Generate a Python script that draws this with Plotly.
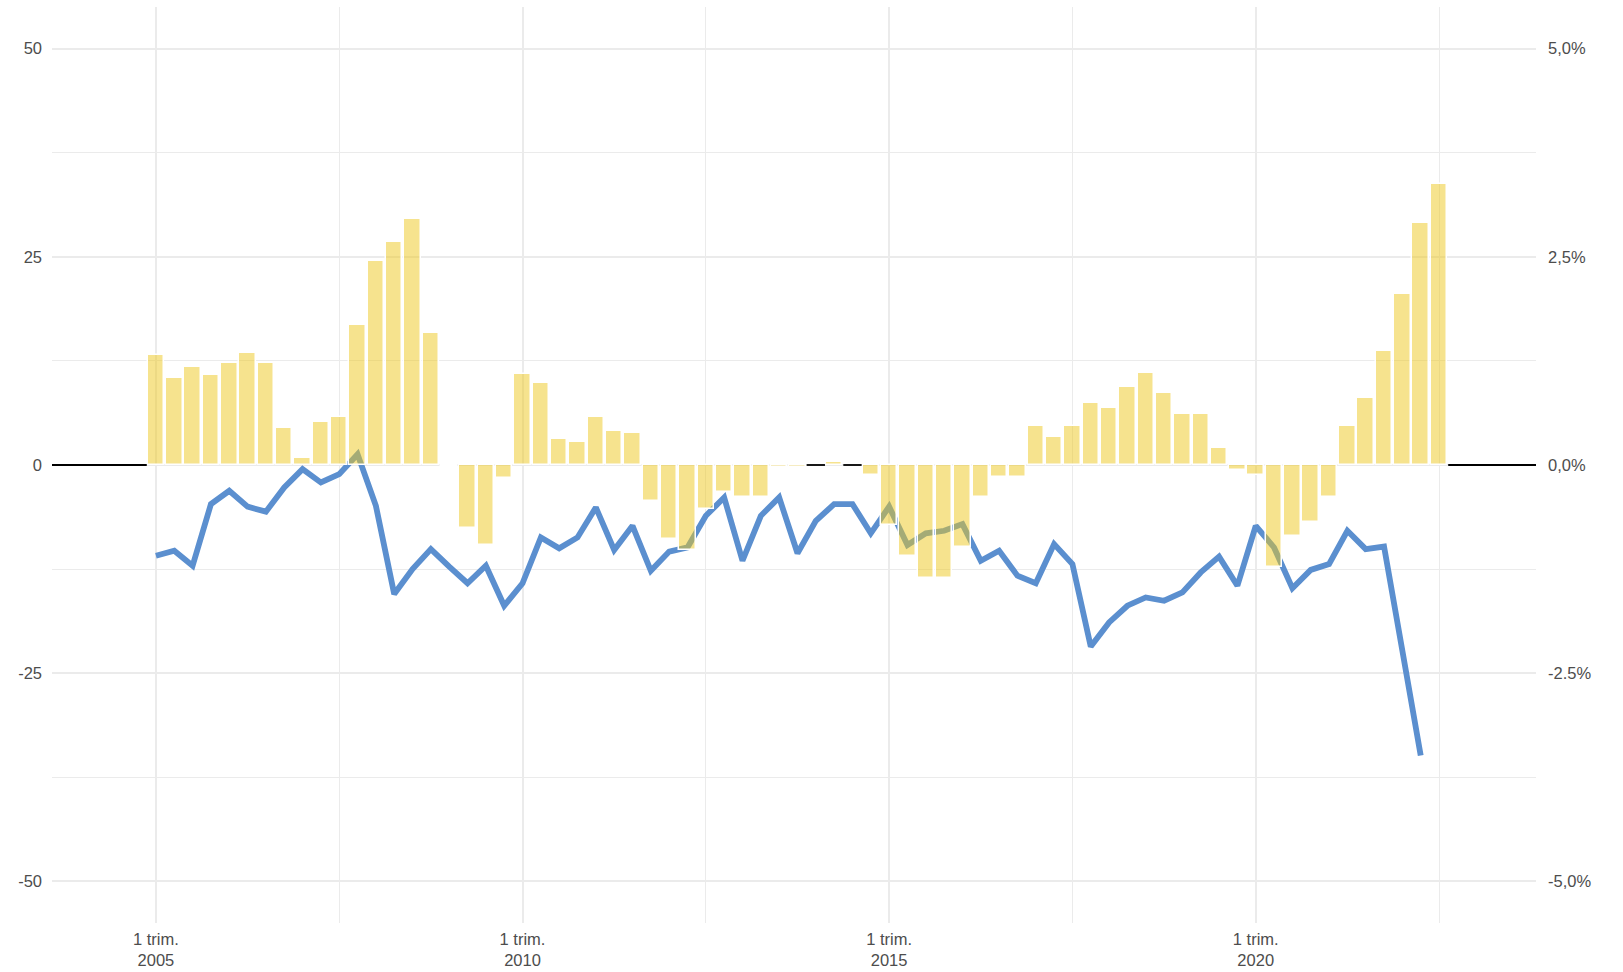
import plotly.graph_objects as go

# Quarters 2005-Q1 .. 2022-Q3
years = list(range(2005, 2023))
quarters = [f"{y}-T{q}" for y in years for q in range(1, 5)][:71]

# Yellow bars (left axis units)
bar_values = [
    13.2, 10.5, 11.8, 10.8,      # 2005
    12.2, 13.5, 12.2, 4.5,       # 2006
    0.8, 5.2, 5.8, 16.8,         # 2007
    24.5, 26.8, 29.5, 15.8,      # 2008
    -0.15, -7.6, -9.6, -1.6,     # 2009
    10.9, 9.8, 3.1, 2.8,         # 2010
    5.8, 4.1, 3.8, -4.3,         # 2011
    -8.9, -10.2, -5.3, -3.3,     # 2012
    -3.9, -3.9, -0.2, -0.2,      # 2013
    None, 0.4, None, -1.2,       # 2014
    -7.2, -10.9, -13.6, -13.6,   # 2015
    -9.9, -3.9, -1.5, -1.5,      # 2016
    4.7, 3.4, 4.7, 7.4,          # 2017
    6.8, 9.4, 11.1, 8.7,         # 2018
    6.1, 6.1, 2.1, -0.6,         # 2019
    -1.2, -12.3, -8.5, -6.8,     # 2020
    -3.9, 4.7, 8.1, 13.7,        # 2021
    20.5, 29.1, 33.8,            # 2022
]

# Blue line (percent, right axis)
line_values = [
    -1.09, -1.03, -1.21, -0.47,  # 2005
    -0.31, -0.50, -0.56, -0.27,  # 2006
    -0.05, -0.21, -0.11, 0.13,   # 2007
    -0.49, -1.55, -1.25, -1.01,  # 2008
    -1.22, -1.42, -1.21, -1.69,  # 2009
    -1.42, -0.87, -1.00, -0.87,  # 2010
    -0.51, -1.02, -0.73, -1.27,  # 2011
    -1.04, -0.99, -0.61, -0.39,  # 2012
    -1.15, -0.61, -0.39, -1.06,  # 2013
    -0.67, -0.47, -0.47, -0.82,  # 2014
    -0.50, -0.96, -0.82, -0.79,  # 2015
    -0.71, -1.15, -1.03, -1.33,  # 2016
    -1.42, -0.95, -1.19, -2.18,  # 2017
    -1.89, -1.69, -1.59, -1.63,  # 2018
    -1.53, -1.29, -1.10, -1.45,  # 2019
    -0.73, -0.99, -1.48, -1.26,  # 2020
    -1.19, -0.79, -1.01, -0.98,  # 2021
    -2.23, -3.49,                # 2022
]

x_tick_idx = [0, 20, 40, 60]
x_tick_text = ["1 trim.<br>2005", "1 trim.<br>2010", "1 trim.<br>2015", "1 trim.<br>2020"]
x_minor_idx = [10, 30, 50, 70]

left_tick_vals = [-50, -25, 0, 25, 50]
left_tick_text = ["-50", "-25", "0", "25", "50"]
right_tick_vals = [-5, -2.5, 0, 2.5, 5]
right_tick_text = ["-5,0%", "-2.5%", "0,0%", "2,5%", "5,0%"]

X_RANGE = [-5.67, 75.29]
GRID = "#EBEBEB"
FONT = dict(family="Liberation Sans, Arial, sans-serif", size=16.5, color="#4D4D4D")

bar_x = list(range(len(bar_values)))
line_x = list(range(len(line_values)))

# zero reference segments where no bar is drawn
zx, zy = [X_RANGE[0], -0.5, None], [0, 0, None]
for i, v in enumerate(bar_values):
    if v is None:
        zx += [i - 0.5, i + 0.5, None]
        zy += [0, 0, None]
zx += [len(bar_values) - 0.5, X_RANGE[1]]
zy += [0, 0]

fig = go.Figure()
fig.add_trace(go.Scatter(
    x=line_x, y=line_values, mode="lines", yaxis="y",
    line=dict(color="#5B8FCF", width=5.8), showlegend=False, hoverinfo="skip",
))
fig.add_trace(go.Bar(
    x=bar_x, y=bar_values, yaxis="y2", width=0.9,
    marker=dict(color="rgba(237,199,29,0.5)", line=dict(color="white", width=1.5)),
    showlegend=False, hoverinfo="skip",
))
fig.add_trace(go.Scatter(
    x=zx, y=zy, mode="lines", yaxis="y2",
    line=dict(color="black", width=1.8), showlegend=False, hoverinfo="skip",
))

fig.update_layout(
    width=1623, height=972,
    margin=dict(l=52, r=87, t=7, b=49),
    paper_bgcolor="white", plot_bgcolor="white",
    font=FONT,
    bargap=0,
    xaxis=dict(
        range=X_RANGE, tickmode="array", tickvals=x_tick_idx, ticktext=x_tick_text,
        showgrid=True, gridcolor=GRID, gridwidth=2, zeroline=False, showline=False,
        ticks="", tickfont=FONT, ticklabelstandoff=4, automargin=False,
        minor=dict(tickmode="array", tickvals=x_minor_idx, showgrid=True, gridcolor=GRID, gridwidth=1.3),
    ),
    yaxis=dict(
        side="right", range=[-5.5, 5.5], tickmode="array",
        tickvals=right_tick_vals, ticktext=right_tick_text,
        showgrid=True, gridcolor=GRID, gridwidth=2, zeroline=False, showline=False,
        ticks="", tickfont=FONT, ticklabelstandoff=11, automargin=False,
        minor=dict(tickmode="array", tickvals=[-3.75, -1.25, 1.25, 3.75], showgrid=True, gridcolor=GRID, gridwidth=1.3),
    ),
    yaxis2=dict(
        overlaying="y", side="left", anchor="x", range=[-55, 55], tickmode="array",
        tickvals=left_tick_vals, ticktext=left_tick_text,
        showgrid=False, zeroline=False, showline=False, ticks="", tickfont=FONT,
        ticklabelstandoff=9, automargin=False,
    ),
)

fig.write_html("out.html", config={"displayModeBar": False},
               post_script="document.body.style.margin='0';")
